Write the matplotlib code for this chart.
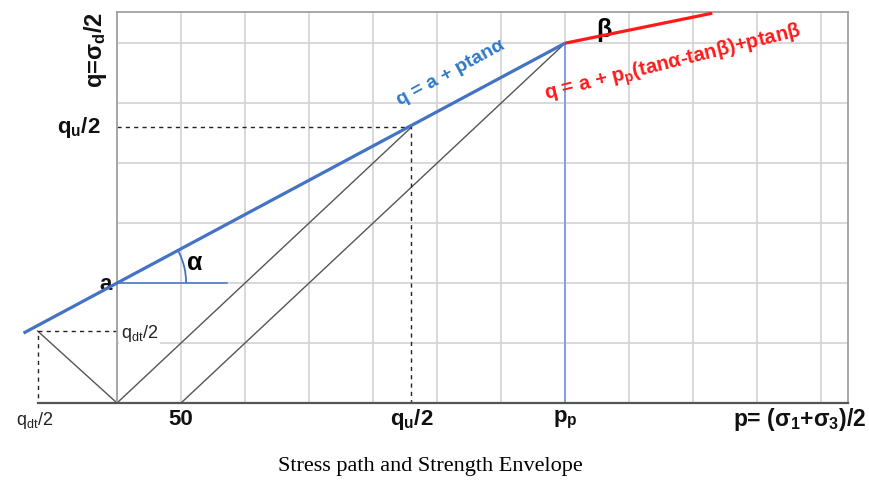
import matplotlib
matplotlib.use('Agg')
import matplotlib.pyplot as plt
from matplotlib.patches import Arc
import numpy as np

# stress space, grid cell = 50 units on both axes
p_ticks = [0, 50, 100, 150, 200, 250, 300, 350, 400, 450, 500, 550]
q_ticks = [0, 50, 100, 150, 200, 250, 300]
p_max, q_max = 571, 326

a = 100                      # cohesion intercept
qdt_point = (-62, 60)        # tension test end point
qu_point = (230, 230)        # unconfined test end point
peak_point = (350, 300)      # p_p, break in envelope
confine_p = 50               # start of confined stress path
envelope_left_p = -73
red_end = (465, 325)

tan_alpha = (peak_point[1] - a) / peak_point[0]

plt.rcParams['font.family'] = ['Liberation Sans', 'DejaVu Sans']
plt.rcParams['mathtext.fontset'] = 'custom'
plt.rcParams['mathtext.rm'] = 'Liberation Sans'
plt.rcParams['mathtext.it'] = 'Liberation Sans'
plt.rcParams['mathtext.bf'] = 'Liberation Sans:bold'

fig = plt.figure(figsize=(8.69, 4.87), dpi=100)
ax = fig.add_axes([117 / 869, 84 / 487, 731 / 869, 391 / 487])
ax.set_xlim(0, p_max)
ax.set_ylim(0, q_max)
ax.set_xticks(p_ticks)
ax.set_yticks(q_ticks)
ax.tick_params(length=0, labelbottom=False, labelleft=False)
ax.grid(True, color='#d6d6d6', lw=1.3)
ax.set_axisbelow(True)
for s in ax.spines.values():
    s.set_color('#a0a0a0')
    s.set_linewidth(1.3)

# bottom axis, runs out to the tension side
ax.plot([qdt_point[0], p_max], [0, 0], color='#555555', lw=1.6, clip_on=False, zorder=3)

# stress paths
gray = '#555555'
ax.plot([qdt_point[0], 0], [qdt_point[1], 0], color=gray, lw=1.0, clip_on=False)
ax.plot([0, qu_point[0]], [0, qu_point[1]], color=gray, lw=1.0)
ax.plot([confine_p, peak_point[0]], [0, peak_point[1]], color=gray, lw=1.0)

# dashed guides
ax.plot([0, qu_point[0], qu_point[0]], [qu_point[1], qu_point[1], 0], color='#222222',
        lw=1.0, ls=(0, (3, 3)))
ax.plot([0, qdt_point[0], qdt_point[0]], [qdt_point[1], qdt_point[1], 0], color='#222222',
        lw=1.0, ls=(0, (3, 3)), clip_on=False)

# p_p marker
ax.plot([peak_point[0], peak_point[0]], [0, peak_point[1]], color='#7d9cd8', lw=1.3)

# strength envelope
env_p = np.array([envelope_left_p, peak_point[0]])
ax.plot(env_p, a + env_p * tan_alpha, color='#4472c4', lw=2.3, clip_on=False,
        solid_capstyle='butt', zorder=5)
ax.plot([peak_point[0], red_end[0]], [peak_point[1], red_end[1]], color='#ff1a1a',
        lw=2.3, solid_capstyle='butt', zorder=5)

# alpha construction
ax.plot([0, 86], [a, a], color='#4472c4', lw=1.1)
ax.add_patch(Arc((0, a), 2 * 54, 2 * 57.5, theta1=0, theta2=28.5,
                 color='#4472c4', lw=1.3))

bold = dict(fontsize=16, fontweight='bold', color='#111111')
ax.text(-13, qu_point[1], r'q$_\mathbf{u}$/2', ha='right', va='center', clip_on=False, **bold)
ax.text(-17, 294, r'q=σ$_\mathbf{d}$/2', ha='center', va='center', rotation=90,
        clip_on=False, fontsize=17, fontweight='bold', color='#111111')
ax.text(-4, a - 1, 'a', ha='right', va='center', clip_on=False, **bold)
ax.text(61, 117, 'α', ha='center', va='center', fontsize=18, fontweight='bold')
ax.text(380, 311, 'β', ha='center', va='center', fontsize=18, fontweight='bold')
ax.text(3, 58, r'q$_{dt}$/2', ha='left', va='center', fontsize=13, color='#222222',
        bbox=dict(fc='white', ec='none', pad=1.5))

# axis labels under the bottom line
ax.text(qdt_point[0] - 2, -15, r'q$_{dt}$/2', ha='center', va='center', fontsize=13,
        color='#222222', clip_on=False)
ax.text(confine_p, -14, '50', ha='center', va='center', clip_on=False, **bold)
ax.text(qu_point[0], -14, r'q$_\mathbf{u}$/2', ha='center', va='center', clip_on=False, **bold)
ax.text(peak_point[0], -14, r'p$_\mathbf{p}$', ha='center', va='center', clip_on=False, **bold)
ax.text(p_max + 14, -14, r'p= (σ$_\mathbf{1}$+σ$_\mathbf{3}$)/2', ha='right', va='center',
        clip_on=False, fontsize=16.5, fontweight='bold', color='#111111')

# envelope equations
ax.text(261, 275, 'q = a + ptanα', ha='center', va='center', rotation=28.5,
        fontsize=14, fontweight='bold', color='#2e78c8')
ax.text(434, 283, r'q = a + p$_\mathbf{p}$(tanα-tanβ)+ptanβ', ha='center', va='center',
        rotation=14, fontsize=14.5, fontweight='bold', color='#ff1a1a', clip_on=False)

fig.text(430 / 869, 1 - 466 / 487, 'Stress path and Strength Envelope', ha='center',
         va='center', fontsize=16, family='Liberation Serif')

fig.savefig('out.png', dpi=100)
